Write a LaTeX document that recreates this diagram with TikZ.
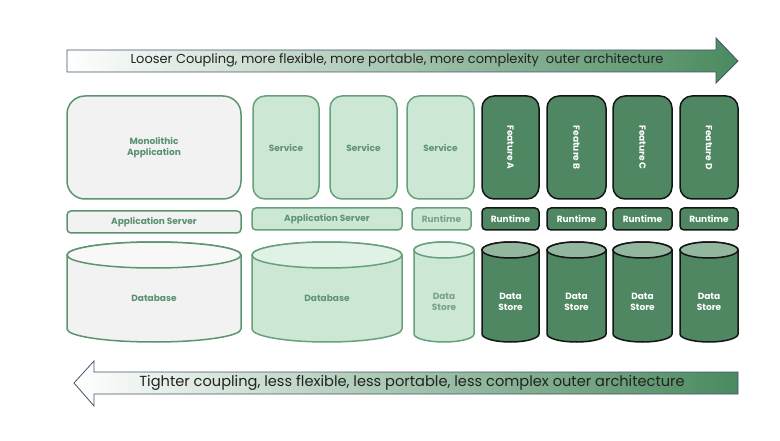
\documentclass[tikz,border=0pt]{standalone}
\usepackage{fontspec}
\setmainfont{Poppins}
\usetikzlibrary{calc}
\definecolor{lgray}{HTML}{F2F2F2}
\definecolor{gborder}{HTML}{5B9570}
\definecolor{gtext}{HTML}{5A9070}
\definecolor{lgreen}{HTML}{CCE8D5}
\definecolor{lgreentop}{HTML}{E0F1E6}
\definecolor{lgborder}{HTML}{68A07C}
\definecolor{lgtext}{HTML}{5F9373}
\definecolor{dgreen}{HTML}{4F8762}
\definecolor{dgreentop}{HTML}{92B79E}
\definecolor{dborder}{HTML}{151515}
\definecolor{arrgreen}{HTML}{4A8A5E}
\definecolor{arrline}{HTML}{44546A}
\definecolor{arrtext}{HTML}{222222}
\definecolor{lgraytop}{HTML}{F8F8F8}
\tikzset{
  boxfont/.style={font=\bfseries\fontsize{9}{10.5}\selectfont},
  gbox/.style={draw=gborder, fill=lgray, line width=1.5pt, rounded corners=#1, text=gtext, boxfont, align=center, inner sep=0pt},
  gbox/.default=4pt,
  lbox/.style={draw=lgborder, fill=lgreen, line width=1.5pt, rounded corners=#1, text=lgtext, boxfont, align=center, inner sep=0pt},
  lbox/.default=4pt,
  dbox/.style={draw=dborder, fill=dgreen, line width=1.5pt, rounded corners=#1, text=white, boxfont, align=center, inner sep=0pt},
  dbox/.default=4pt,
  gcyl/.style={draw=gborder, line width=1.5pt, fill=lgray},
  lcyl/.style={draw=lgborder, line width=1.5pt, fill=lgreen},
  dcyl/.style={draw=dborder, line width=1.5pt, fill=dgreen},
  glabel/.style={text=gtext, boxfont, align=center},
  llabel/.style={text=lgtext, boxfont, align=center},
  dlabel/.style={text=white, boxfont, align=center},
  bigarrow/.style={draw=arrline, line width=0.8pt, left color=white, right color=arrgreen},
  arrowtext/.style={text=arrtext, font=\fontsize{#1}{15}\selectfont},
}
% name, x1, x2, Ytop, Ybot, ry, style, topcolor
\newcommand{\mycyl}[8]{%
  \pgfmathsetmacro\myrx{(#3-#2)/2}%
  \pgfmathsetmacro\myxc{(#3+#2)/2}%
  \path[#7] (#2,#4-#6) -- (#2,#5+#6)
     arc[start angle=180,end angle=360,x radius=\myrx pt,y radius=#6 pt]
     -- (#3,#4-#6)
     arc[start angle=0,end angle=180,x radius=\myrx pt,y radius=#6 pt] -- cycle;
  \path[#7, fill=#8] (\myxc,#4-#6) ellipse[x radius=\myrx pt,y radius=#6 pt];
  \coordinate (#1) at (\myxc,{(#4+#5)/2-#6/2});
}
\begin{document}
\begin{tikzpicture}[x=1pt,y=1pt]
\useasboundingbox[fill=white] (0,0) rectangle (780,440);

% top arrow
\path[bigarrow] (67,390) -- (716,390) -- (716,402) -- (738,379) -- (716,357) -- (716,368) -- (67,368) -- cycle;
\node[arrowtext=13] (toptext) at (397,379.5) {Looser Coupling, more flexible, more portable, more complexity\ \ outer architecture};

% bottom arrow
\path[bigarrow] (738,68) -- (94,68) -- (94,79) -- (74,57) -- (94,34) -- (94,46) -- (738,46) -- cycle;
\node[arrowtext=14.6] (bottext) at (412,57) {Tighter coupling, less flexible, less portable, less complex outer architecture};

% top row
\node[gbox=18pt, minimum width=174pt, minimum height=103pt] (mono) at (154,292.5) {Monolithic\\Application};
\node[lbox=12pt, minimum width=66pt, minimum height=103pt] (svc1) at (286,292.5) {Service};
\node[lbox=12pt, minimum width=67pt, minimum height=103pt] (svc2) at (363.5,292.5) {Service};
\node[lbox=12pt, minimum width=67pt, minimum height=103pt] (svc3) at (440.5,292.5) {Service};
\node[dbox=12pt, minimum width=57pt, minimum height=103pt] (fa) at (510.5,292.5) {};
\node[dbox=12pt, minimum width=59pt, minimum height=103pt] (fb) at (576.5,292.5) {};
\node[dbox=12pt, minimum width=59pt, minimum height=103pt] (fc) at (642.5,292.5) {};
\node[dbox=12pt, minimum width=58pt, minimum height=103pt] (fd) at (709,292.5) {};
\node[dlabel, rotate=-90] (fal) at (fa) {Feature A};
\node[dlabel, rotate=-90] (fbl) at (fb) {Feature B};
\node[dlabel, rotate=-90] (fcl) at (fc) {Feature C};
\node[dlabel, rotate=-90] (fdl) at (fd) {Feature D};

% middle row
\node[gbox, minimum width=174pt, minimum height=22pt] (as1) at (154,218) {Application Server};
\node[lbox, minimum width=150pt, minimum height=22pt] (as2) at (327,221) {Application Server};
\node[lbox, minimum width=59pt, minimum height=22pt, text=lgtext!85!white] (rt0) at (441.5,221) {Runtime};
\node[dbox, minimum width=57pt, minimum height=22pt] (rta) at (510.5,221) {Runtime};
\node[dbox, minimum width=59pt, minimum height=22pt] (rtb) at (576.5,221) {Runtime};
\node[dbox, minimum width=59pt, minimum height=22pt] (rtc) at (642.5,221) {Runtime};
\node[dbox, minimum width=58pt, minimum height=22pt] (rtd) at (709,221) {Runtime};

% bottom row: cylinders
\mycyl{db1}{67}{241}{198}{98}{13}{gcyl}{lgraytop}
\mycyl{db2}{252}{402}{198}{98}{13}{lcyl}{lgreentop}
\mycyl{ds0}{414}{474}{198}{98}{8}{lcyl}{lgreentop}
\mycyl{dsa}{482}{539}{198}{98}{8}{dcyl}{dgreentop}
\mycyl{dsb}{547}{606}{198}{98}{8}{dcyl}{dgreentop}
\mycyl{dsc}{613}{672}{198}{98}{8}{dcyl}{dgreentop}
\mycyl{dsd}{680}{738}{198}{98}{8}{dcyl}{dgreentop}
\node[glabel] (db1l) at (154,142) {Database};
\node[llabel] (db2l) at (327,142) {Database};
\node[llabel, text=lgtext!85!white] (ds0l) at (444,138) {Data\\Store};
\node[dlabel] (dsal) at (510.5,138) {Data\\Store};
\node[dlabel] (dsbl) at (576.5,138) {Data\\Store};
\node[dlabel] (dscl) at (642.5,138) {Data\\Store};
\node[dlabel] (dsdl) at (709,138) {Data\\Store};
\end{tikzpicture}
\end{document}
